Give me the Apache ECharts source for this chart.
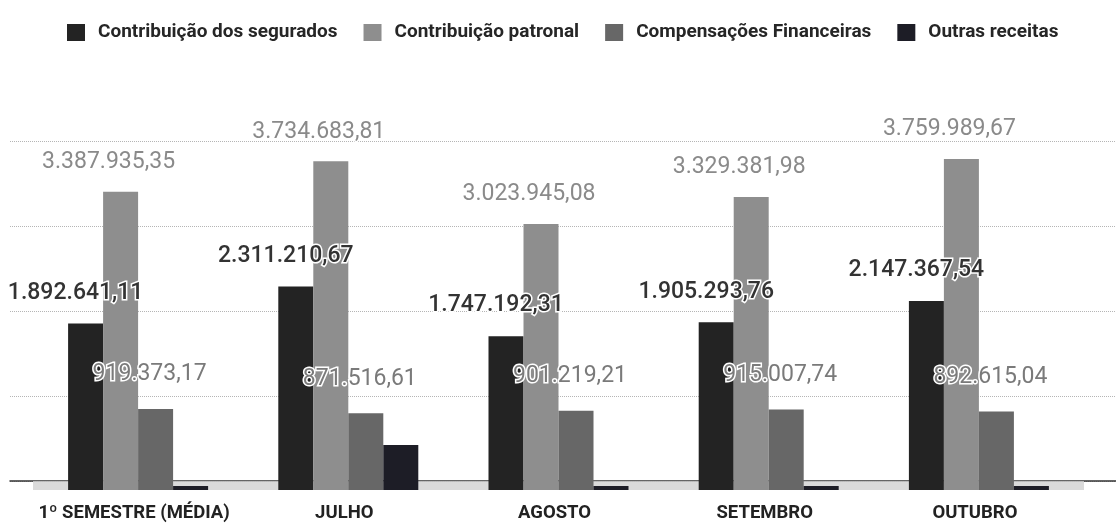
<!DOCTYPE html>
<html>
<head>
<meta charset="utf-8">
<script src="https://cdn.jsdelivr.net/npm/echarts@6/dist/echarts.min.js"></script>
<style>
html,body{margin:0;padding:0;background:#fff;}
#chart{width:1116px;height:526px;}
</style>
</head>
<body>
<div id="chart"></div>
<script>
const categories = ['1º SEMESTRE (MÉDIA)', 'JULHO', 'AGOSTO', 'SETEMBRO', 'OUTUBRO'];
const seriesNames = ['Contribuição dos segurados', 'Contribuição patronal', 'Compensações Financeiras', 'Outras receitas'];
const segurados = [1892641.11, 2311210.67, 1747192.31, 1905293.76, 2147367.54];
const patronal = [3387935.35, 3734683.81, 3023945.08, 3329381.98, 3759989.67];
const compensacoes = [919373.17, 871516.61, 901219.21, 915007.74, 892615.04];
const outras = [45000, 510000, 45000, 45000, 45000];
const yTicks = [0, 1000000, 2000000, 3000000, 4000000];

function fmtBR(v) {
  const neg = v < 0;
  const fixed = Math.abs(v).toFixed(2);
  const parts = fixed.split('.');
  const intPart = parts[0].replace(/\B(?=(\d{3})+(?!\d))/g, '.');
  return (neg ? '-' : '') + intPart + ',' + parts[1];
}

const chart = echarts.init(document.getElementById('chart'));
const FONT = 'Roboto';
const yMax = yTicks[yTicks.length - 1];
const yInt = yTicks[1] - yTicks[0];

function mkLabel(color, size, weight, dx, dist) {
  return {
    show: true, position: 'top', distance: dist, offset: [dx, 0],
    formatter: p => fmtBR(p.value),
    color: color, fontFamily: FONT, fontSize: size, fontWeight: weight,
    textBorderColor: '#fff', textBorderWidth: 3
  };
}

const colors = ['#232323', '#8e8e8e', '#676767', '#1d1d26'];

chart.setOption({
  animation: false,
  backgroundColor: '#fff',
  color: colors,
  legend: {
    left: 62, top: 18,
    itemWidth: 18, itemHeight: 17, itemGap: 26,
    icon: 'rect',
    textStyle: { fontFamily: FONT, fontSize: 19, fontWeight: 'bold', color: '#262626', padding: [0, 0, 0, 8] },
    data: seriesNames
  },
  grid: [
    { left: 33, right: 32, top: 138, bottom: 36 },
    { left: 10, right: 0, top: 141, bottom: 45 }
  ],
  xAxis: [
    { type: 'category', gridIndex: 0, data: categories, axisLine: { show: false }, axisTick: { show: false },
      axisLabel: { interval: 0, margin: 14, fontFamily: FONT, fontSize: 18.5, fontWeight: 'bold', color: '#222', padding: [0, 8, 0, 0] } },
    { type: 'category', gridIndex: 1, data: categories, axisLine: { show: true, lineStyle: { color: '#333', width: 1.5 } },
      axisTick: { show: false }, axisLabel: { show: false } }
  ],
  yAxis: [
    { type: 'value', gridIndex: 0, min: 0, max: yMax, interval: yInt, show: false, splitLine: { show: false } },
    { type: 'value', gridIndex: 1, min: 0, max: yMax, interval: yInt, axisLabel: { show: false },
      axisLine: { show: false }, axisTick: { show: false },
      splitLine: { show: true, lineStyle: { color: '#b5b5b5', type: 'dotted', width: 1 } } }
  ],
  series: [
    { name: seriesNames[0], type: 'bar', xAxisIndex: 0, yAxisIndex: 0, data: segurados,
      barWidth: 35, barGap: '0%',
      itemStyle: { color: colors[0] },
      label: mkLabel('#333', 23, 500, -10, 19),
      markArea: { silent: true, itemStyle: { color: '#dadada' }, label: { show: false },
        data: [[{ yAxis: 0 }, { yAxis: 100000 }]] } },
    { name: seriesNames[1], type: 'bar', xAxisIndex: 0, yAxisIndex: 0, data: patronal,
      barWidth: 35, barGap: '0%',
      itemStyle: { color: colors[1] },
      label: mkLabel('#8a8a8a', 23, 'normal', -12, 18) },
    { name: seriesNames[2], type: 'bar', xAxisIndex: 0, yAxisIndex: 0, data: compensacoes,
      barWidth: 35, barGap: '0%',
      itemStyle: { color: colors[2] },
      label: mkLabel('#7a7a7a', 23, 'normal', -6, 23) },
    { name: seriesNames[3], type: 'bar', xAxisIndex: 0, yAxisIndex: 0, data: outras,
      barWidth: 35, barGap: '0%',
      itemStyle: { color: colors[3] },
      label: { show: false } }
  ]
});
</script>
</body>
</html>
